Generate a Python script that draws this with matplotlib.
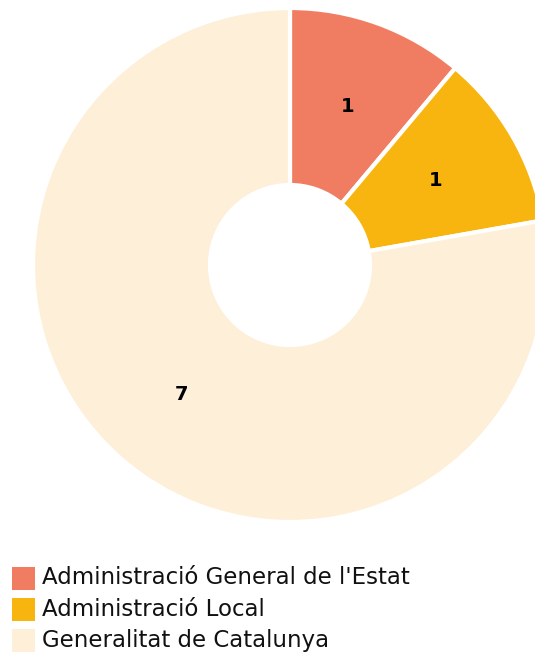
import matplotlib
matplotlib.use("Agg")
import matplotlib.pyplot as plt
from matplotlib.patches import Rectangle
import numpy as np

categories = ["Administració General de l'Estat", "Administració Local", "Generalitat de Catalunya"]
values = [1, 1, 7]
colors = ["#F07D62", "#F9B50F", "#FEEFD9"]

W, H = 535, 653
fig = plt.figure(figsize=(W / 100, H / 100), dpi=100)

cx, cy, R = 290, 265, 257
ax = fig.add_axes([(cx - R) / W, (H - cy - R) / H, 2 * R / W, 2 * R / H])

inner = 80 / R
wedges, _ = ax.pie(values, colors=colors, startangle=90, counterclock=False, radius=1,
                   wedgeprops=dict(width=1 - inner, edgecolor="white", linewidth=3))
ax.set_xlim(-1, 1)
ax.set_ylim(-1, 1)
ax.set_aspect("equal")
ax.axis("off")

total = sum(values)
ang = 90
rmid = (1 + inner) / 2
for v in values:
    a = ang - 360 * v / total / 2
    ax.text(rmid * np.cos(np.radians(a)), rmid * np.sin(np.radians(a)), str(v),
            ha="center", va="center", fontsize=14, fontweight="bold", color="black",
            family="DejaVu Sans")
    ang -= 360 * v / total

# legend
row_y = [578, 609, 640]
for lab, col, y in zip(categories, colors, row_y):
    fig.patches.append(Rectangle((12 / W, (H - y - 11.5) / H), 23 / W, 23 / H,
                                 transform=fig.transFigure, facecolor=col, edgecolor="none"))
    fig.text(42 / W, (H - y) / H, lab, ha="left", va="center", fontsize=16.5,
             family="DejaVu Sans", color="#111111")

fig.savefig("out.png", dpi=100)
